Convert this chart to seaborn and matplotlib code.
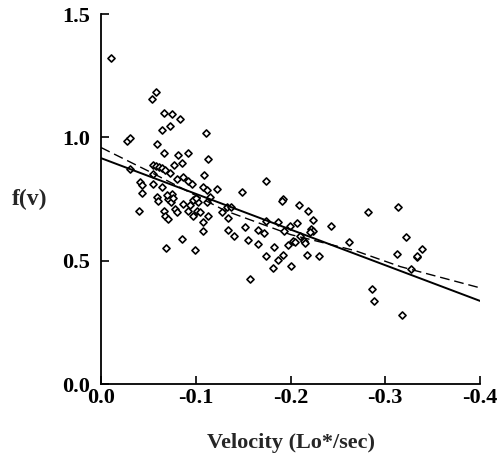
import numpy as np
import pandas as pd
import seaborn as sns
import matplotlib
matplotlib.use("Agg")
import matplotlib.pyplot as plt

velocity = [-0.0106, -0.0577, -0.054, -0.0668, -0.075, -0.0834, -0.064, -0.0728, -0.1108,
            -0.0278, -0.031, -0.059, -0.0668, -0.081, -0.0922, -0.113, -0.0306,
            -0.055, -0.058, -0.061, -0.064, -0.077, -0.0858, -0.0728, -0.0675, -0.109,
            -0.0552, -0.080, -0.087, -0.092, -0.0957, -0.041, -0.043, -0.043, -0.055,
            -0.064, -0.108, -0.1115, -0.122, -0.1485, -0.174, -0.192, -0.1907, -0.040,
            -0.0588, -0.0605, -0.073, -0.071, -0.075, -0.066, -0.0675, -0.071, -0.078,
            -0.080, -0.092, -0.101, -0.1045, -0.087, -0.094, -0.0975, -0.108, -0.113,
            -0.108, -0.086, -0.069, -0.099, -0.1115, -0.115, -0.128, -0.133, -0.137,
            -0.134, -0.134, -0.1407, -0.152, -0.155, -0.1576, -0.1654, -0.1654, -0.172,
            -0.174, -0.1826, -0.182, -0.187, -0.192, -0.197, -0.2005, -0.203, -0.205,
            -0.2065, -0.209, -0.1865, -0.174, -0.199, -0.193, -0.218, -0.224, -0.2216,
            -0.2233, -0.2206, -0.214, -0.215, -0.210, -0.2424, -0.230, -0.217, -0.262,
            -0.282, -0.3138, -0.322, -0.339, -0.334, -0.333, -0.312, -0.327, -0.2857,
            -0.288, -0.318, -0.097, -0.102, -0.100, -0.070, -0.074, -0.076]
fv = [1.322, 1.183, 1.156, 1.100, 1.093, 1.074, 1.030, 1.046, 1.019,
      0.987, 0.998, 0.974, 0.938, 0.927, 0.936, 0.911, 0.873,
      0.890, 0.885, 0.880, 0.876, 0.889, 0.895, 0.854, 0.866, 0.847,
      0.850, 0.832, 0.839, 0.825, 0.812, 0.818, 0.805, 0.776, 0.813,
      0.798, 0.798, 0.785, 0.789, 0.778, 0.825, 0.751, 0.744, 0.700,
      0.757, 0.744, 0.760, 0.750, 0.770, 0.703, 0.683, 0.669, 0.710,
      0.696, 0.700, 0.703, 0.696, 0.730, 0.724, 0.683, 0.656, 0.683,
      0.622, 0.588, 0.551, 0.542, 0.737, 0.757, 0.696, 0.717, 0.717,
      0.672, 0.624, 0.600, 0.638, 0.585, 0.427, 0.625, 0.568, 0.611,
      0.520, 0.554, 0.469, 0.503, 0.523, 0.562, 0.478, 0.581, 0.575,
      0.652, 0.726, 0.659, 0.660, 0.640, 0.620, 0.702, 0.664, 0.630,
      0.622, 0.615, 0.581, 0.570, 0.602, 0.640, 0.518, 0.523, 0.576,
      0.696, 0.717, 0.596, 0.549, 0.516, 0.520, 0.528, 0.467, 0.386,
      0.335, 0.278, 0.745, 0.740, 0.755, 0.765, 0.740, 0.755]

# linear fit (solid)
solid_x = [0.0, -0.4]
solid_f = [0.916, 0.337]
# curved fit (dashed)
dashed_x = [0.0, -0.034, -0.055, -0.131, -0.200, -0.268, -0.316, -0.400]
dashed_f = [0.959, 0.894, 0.854, 0.703, 0.606, 0.541, 0.476, 0.390]

x_ticks = [0.0, -0.1, -0.2, -0.3, -0.4]
x_tick_labels = ["0.0", "-0.1", "-0.2", "-0.3", "-0.4"]
y_ticks = [0.0, 0.5, 1.0, 1.5]
y_tick_labels = ["0.0", "0.5", "1.0", "1.5"]

sns.set_style("ticks")
plt.rcParams['font.family'] = ['Liberation Serif', 'DejaVu Serif']

fig = plt.figure(figsize=(4.99, 4.55), dpi=100)
ax = fig.add_axes([0.2024, 0.156, 0.7596, 0.813])

pts = pd.DataFrame({"v": velocity, "f": fv})
sns.scatterplot(data=pts, x="v", y="f", ax=ax, marker="D", s=13,
                facecolor="white", edgecolor="black", linewidth=1.2, zorder=3)

solid = pd.DataFrame({"v": solid_x, "f": solid_f})
dashed = pd.DataFrame({"v": dashed_x, "f": dashed_f})
sns.lineplot(data=solid, x="v", y="f", ax=ax, color="black", linewidth=1.4,
             zorder=4, sort=False)
sns.lineplot(data=dashed, x="v", y="f", ax=ax, color="black", linewidth=1.0,
             linestyle=(0, (7, 3.5)), zorder=4, sort=False)

ax.set_xlim(0.0, -0.4)
ax.set_ylim(0.0, 1.5)
ax.set_xticks(x_ticks)
ax.set_xticklabels(x_tick_labels)
ax.set_yticks(y_ticks)
ax.set_yticklabels(y_tick_labels)
ax.tick_params(direction="in", length=6, width=1.2, labelsize=16, colors="black")
ax.tick_params(axis="y", pad=8)
ax.tick_params(axis="x", pad=3)
for lab in ax.get_xticklabels() + ax.get_yticklabels():
    lab.set_fontweight("bold")
sns.despine(ax=ax)
for s in ["left", "bottom"]:
    ax.spines[s].set_linewidth(1.3)
    ax.spines[s].set_color("black")

ax.set_xlabel("Velocity (Lo*/sec)", fontsize=16, fontweight="bold", labelpad=18)
ax.set_ylabel("f(v)", fontsize=17, fontweight="bold", rotation=0, labelpad=23, va="center")

fig.savefig("out.png", dpi=100)
